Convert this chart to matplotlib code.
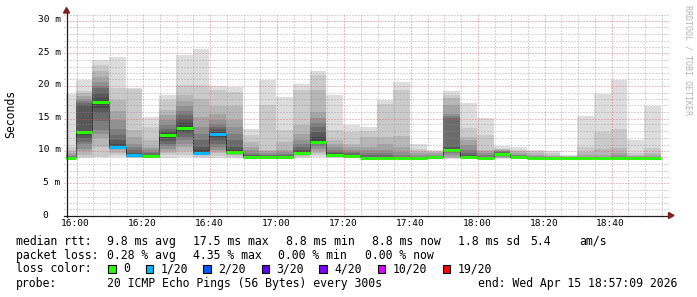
import numpy as np
import pandas as pd
import matplotlib
matplotlib.use("Agg")
import matplotlib.pyplot as plt
from matplotlib.patches import Rectangle, Polygon
from matplotlib.lines import Line2D

W, H = 697, 297
MONO = "DejaVu Sans Mono"

# 5 minute steps (start of each RRD row)
step_start = pd.date_range("2026-04-15 15:55", "2026-04-15 18:50", freq="5min")

# 20 sorted ping times per step (ms)
pings = [
    [8.6, 8.7, 8.7, 8.7, 8.8, 8.8, 8.8, 8.8, 8.8, 8.8, 8.8, 8.9, 8.9, 9.0, 9.1, 9.3, 9.5, 9.8, 10.5, 18.6],
    [8.8, 9.0, 9.3, 9.8, 10.2, 11.0, 11.3, 11.8, 12.3, 12.7, 12.7, 13.0, 17.0, 17.2, 17.5, 17.9, 18.3, 18.7, 19.1, 20.7],
    [8.85, 9.0, 10.5, 11.8, 12.4, 13.1, 14.5, 15.7, 16.5, 17.4, 17.4, 18.0, 18.8, 19.5, 19.9, 20.5, 21.3, 22.1, 23.1, 23.8],
    [8.9, 9.2, 9.6, 10.0, 10.2, 10.3, 10.4, 10.5, 10.5, 10.5, 10.5, 11.0, 11.5, 12.3, 13.2, 14.6, 16.0, 17.7, 19.6, 24.3],
    [8.7, 8.8, 8.9, 9.0, 9.0, 9.1, 9.1, 9.2, 9.2, 9.2, 9.2, 9.4, 9.6, 10.0, 10.5, 11.0, 12.0, 13.1, 19.4, 19.6],
    [8.8, 8.9, 9.0, 9.0, 9.0, 9.1, 9.1, 9.1, 9.1, 9.1, 9.1, 9.2, 9.3, 9.5, 9.7, 10.2, 10.5, 11.5, 13.6, 15.1],
    [8.8, 9.2, 9.5, 9.9, 10.2, 10.6, 11.0, 11.4, 11.8, 12.2, 12.4, 12.6, 13.0, 13.3, 13.8, 14.6, 15.4, 16.2, 17.7, 18.5],
    [8.9, 9.3, 9.8, 10.5, 11.0, 11.5, 12.0, 12.6, 13.0, 13.3, 13.5, 14.2, 14.8, 15.4, 16.0, 16.7, 17.5, 18.5, 20.0, 24.6],
    [8.8, 9.0, 9.2, 9.3, 9.4, 9.5, 9.5, 9.6, 9.6, 9.6, 9.6, 10.0, 10.5, 11.5, 12.5, 13.5, 15.1, 17.9, 20.0, 25.5],
    [8.8, 9.1, 9.5, 9.8, 10.0, 10.5, 11.0, 11.5, 12.0, 12.5, 12.5, 12.8, 13.2, 13.6, 14.0, 14.6, 15.5, 16.7, 19.2, 19.9],
    [8.8, 9.0, 9.2, 9.3, 9.4, 9.5, 9.6, 9.6, 9.7, 9.7, 9.7, 10.0, 10.5, 11.5, 12.5, 13.5, 14.6, 16.7, 19.0, 19.7],
    [8.8, 8.9, 8.9, 8.9, 9.0, 9.0, 9.0, 9.0, 9.0, 9.0, 9.0, 9.1, 9.2, 9.3, 9.6, 10.0, 10.5, 11.3, 12.3, 13.2],
    [8.8, 8.8, 8.9, 8.9, 8.9, 9.0, 9.0, 9.0, 9.0, 9.0, 9.0, 9.0, 9.1, 9.2, 9.3, 9.5, 9.8, 10.0, 16.9, 20.8],
    [8.7, 8.8, 8.8, 8.8, 8.8, 8.8, 8.8, 8.8, 8.8, 8.8, 8.9, 8.9, 9.0, 9.2, 9.4, 9.7, 10.0, 11.3, 13.1, 18.2],
    [8.8, 9.0, 9.1, 9.2, 9.3, 9.4, 9.5, 9.5, 9.6, 9.6, 9.6, 9.8, 10.0, 10.5, 11.0, 11.5, 12.5, 13.8, 19.2, 20.2],
    [8.9, 9.2, 9.5, 9.8, 10.2, 10.6, 10.9, 11.1, 11.2, 11.3, 11.3, 12.0, 12.8, 13.6, 14.1, 15.0, 15.9, 19.2, 21.5, 22.1],
    [8.8, 8.9, 9.0, 9.0, 9.1, 9.2, 9.2, 9.3, 9.3, 9.3, 9.3, 9.4, 9.5, 9.7, 10.0, 10.5, 11.0, 11.5, 13.1, 18.5],
    [8.8, 8.9, 8.9, 9.0, 9.0, 9.0, 9.0, 9.1, 9.1, 9.1, 9.1, 9.2, 9.3, 9.5, 9.7, 10.0, 10.5, 11.0, 12.8, 13.8],
    [8.7, 8.7, 8.8, 8.8, 8.8, 8.8, 8.8, 8.8, 8.8, 8.8, 8.8, 8.9, 9.0, 9.2, 9.5, 10.0, 10.5, 12.0, 13.0, 13.5],
    [8.7, 8.7, 8.8, 8.8, 8.8, 8.8, 8.8, 8.8, 8.8, 8.8, 8.8, 8.9, 9.0, 9.2, 9.5, 10.0, 11.0, 12.0, 17.1, 17.7],
    [8.6, 8.6, 8.7, 8.7, 8.7, 8.7, 8.7, 8.7, 8.7, 8.7, 8.7, 8.8, 8.9, 9.0, 9.3, 9.7, 10.5, 12.2, 19.2, 20.5],
    [8.6, 8.6, 8.7, 8.7, 8.7, 8.7, 8.7, 8.7, 8.7, 8.7, 8.7, 8.8, 8.8, 8.9, 9.0, 9.2, 9.5, 9.8, 10.1, 11.0],
    [8.7, 8.7, 8.8, 8.8, 8.8, 8.8, 8.8, 8.8, 8.8, 8.8, 8.9, 8.9, 8.9, 9.0, 9.1, 9.3, 9.5, 9.7, 9.9, 10.0],
    [8.6, 8.7, 8.8, 8.9, 9.2, 9.5, 9.8, 9.9, 10.0, 10.0, 10.0, 10.2, 10.5, 15.0, 15.3, 15.6, 17.0, 18.0, 18.5, 19.1],
    [8.8, 8.8, 8.9, 8.9, 8.9, 9.0, 9.0, 9.0, 9.0, 9.0, 9.0, 9.1, 9.3, 9.6, 10.0, 10.8, 11.5, 12.0, 13.4, 17.2],
    [8.7, 8.7, 8.8, 8.8, 8.8, 8.8, 8.8, 8.8, 8.8, 8.8, 8.8, 8.9, 8.9, 9.0, 9.2, 9.5, 9.8, 10.0, 12.3, 15.0],
    [8.6, 8.7, 8.8, 8.9, 9.0, 9.1, 9.2, 9.3, 9.3, 9.4, 9.4, 9.5, 9.6, 9.7, 9.8, 9.9, 10.0, 10.1, 10.2, 10.6],
    [8.7, 8.7, 8.8, 8.8, 8.8, 8.8, 8.9, 8.9, 8.9, 8.9, 8.9, 9.0, 9.0, 9.1, 9.2, 9.3, 9.5, 9.8, 10.0, 10.4],
    [8.6, 8.7, 8.7, 8.7, 8.8, 8.8, 8.8, 8.8, 8.8, 8.8, 8.8, 8.8, 8.9, 8.9, 9.0, 9.1, 9.2, 9.5, 9.8, 10.0],
    [8.5, 8.6, 8.6, 8.7, 8.7, 8.7, 8.7, 8.7, 8.7, 8.7, 8.7, 8.7, 8.8, 8.8, 8.9, 9.0, 9.1, 9.3, 9.6, 9.9],
    [8.7, 8.7, 8.7, 8.8, 8.8, 8.8, 8.8, 8.8, 8.8, 8.8, 8.8, 8.8, 8.9, 8.9, 8.9, 9.0, 9.0, 9.1, 9.1, 9.2],
    [8.6, 8.6, 8.6, 8.7, 8.7, 8.7, 8.7, 8.7, 8.7, 8.7, 8.7, 8.7, 8.8, 8.8, 8.9, 9.0, 9.3, 9.7, 10.5, 15.2],
    [8.6, 8.6, 8.7, 8.7, 8.7, 8.7, 8.7, 8.7, 8.7, 8.7, 8.7, 8.7, 8.8, 8.8, 8.9, 9.0, 9.3, 10.1, 12.8, 18.6],
    [8.6, 8.6, 8.7, 8.7, 8.7, 8.7, 8.7, 8.7, 8.7, 8.7, 8.7, 8.8, 8.8, 8.9, 9.0, 9.2, 9.6, 10.3, 13.3, 20.7],
    [8.6, 8.6, 8.7, 8.7, 8.7, 8.7, 8.7, 8.7, 8.7, 8.7, 8.7, 8.7, 8.8, 8.8, 8.9, 9.0, 9.1, 9.3, 9.5, 11.5],
    [8.6, 8.6, 8.7, 8.7, 8.7, 8.7, 8.7, 8.7, 8.7, 8.7, 8.7, 8.7, 8.8, 8.8, 8.9, 9.0, 9.2, 9.6, 10.3, 16.7],
]

# lost pings per step (out of 20)
loss = [0, 0, 0, 1, 1, 0, 0, 0, 1, 1, 0, 0, 0, 0, 0, 0, 0, 0,
        0, 0, 0, 0, 0, 0, 0, 0, 0, 0, 0, 0, 0, 0, 0, 0, 0, 0]

loss_levels = [0, 1, 2, 3, 4, 10, 19]
loss_labels = ["0", "1/20", "2/20", "3/20", "4/20", "10/20", "19/20"]
loss_colors = ["#26ff00", "#00b8ff", "#0059ff", "#5e00ff", "#7e00ff", "#dd00ff", "#ff0000"]

x_start = pd.Timestamp("2026-04-15 15:57:09")
x_end = pd.Timestamp("2026-04-15 18:57:09")


def to_min(ts):
    return (ts - x_start) / pd.Timedelta(minutes=1)


def fx(x):
    return x / W


def fy(y):
    return 1 - y / H


def loss_color(n):
    idx = 0
    for i, lv in enumerate(loss_levels):
        if n >= lv:
            idx = i
    return loss_colors[idx]


P = np.array(pings)
left = to_min(step_start).to_numpy()
median = np.median(P, axis=1)
half = P.shape[1] // 2
span = to_min(x_end)

fig = plt.figure(figsize=(W / 100, H / 100), dpi=100)
fig.patch.set_facecolor("white")
ax = fig.add_axes([fx(66), fy(215), fx(602), 202 / H])
ax.set_xlim(0, span)
ax.set_ylim(0, 202 / 6.5)
ax.axis("off")

# smoke: band i covers ping i .. ping (n-i), darker towards the middle
for i in range(half):
    c = int(190 / half * (half - (i + 1))) + 50
    grey = "#%02x%02x%02x" % (c, c, c)
    lo = P[:, i]
    hi = P[:, -(i + 1)]
    ax.bar(left, hi - lo, bottom=lo, width=5, align="edge", color=grey,
           linewidth=0, antialiased=False, zorder=2)

# grid (dotted, drawn over the smoke like rrdtool); placed on whole pixels
minor_c = (0.56, 0.56, 0.56, 0.7)
major_c = (0.87, 0.31, 0.31, 0.7)
dots = (0, (1, 2))
for v in range(0, 32):
    yp = round(215 - v * 6.5) + 0.5
    fig.add_artist(Line2D([fx(64), fx(669)], [fy(yp), fy(yp)], lw=0.72, ls=dots,
                          color=major_c if v % 5 == 0 else minor_c, zorder=3))
grid_times = pd.date_range("2026-04-15 16:00", "2026-04-15 18:55", freq="5min")
for t in grid_times:
    xp = round(66 + to_min(t) * 602 / span) + 0.5
    fig.add_artist(Line2D([fx(xp), fx(xp)], [fy(217), fy(13)], lw=0.72, ls=dots,
                          color=major_c if t.minute % 20 == 0 else minor_c, zorder=3))

# median line, coloured by loss, with dotted steps
for k in range(1, len(median)):
    ax.vlines(left[k], median[k - 1], median[k], color="black", lw=0.72,
              ls=(0, (1, 1)), zorder=4)
ax.hlines(median, left, left + 5, colors=[loss_color(n) for n in loss],
          lw=2.2, zorder=5)

# axes with arrows
axis_c = "#1f1f1f"
arrow_c = "#7f1f1f"
fig.add_artist(Line2D([fx(64), fx(669)], [fy(215.5), fy(215.5)], color=axis_c, lw=0.9, zorder=6))
fig.add_artist(Line2D([fx(66.5), fx(66.5)], [fy(217), fy(11)], color=axis_c, lw=0.9, zorder=6))
fig.add_artist(Polygon([[fx(66.5), fy(7.5)], [fx(63.5), fy(13)], [fx(69.5), fy(13)]],
                       closed=True, color=arrow_c, transform=fig.transFigure, zorder=6))
fig.add_artist(Polygon([[fx(674), fy(215.5)], [fx(668.5), fy(212.5)], [fx(668.5), fy(218.5)]],
                       closed=True, color=arrow_c, transform=fig.transFigure, zorder=6))

# x tick labels
for t in pd.date_range("2026-04-15 16:00", "2026-04-15 18:40", freq="20min"):
    xp = 66 + to_min(t) * 602 / span
    fig.text(fx(xp), fy(224), t.strftime("%H:%M"), ha="center", va="center",
             family=MONO, fontsize=6.8)

# y tick labels
for v in range(0, 31, 5):
    yp = 215 - v * 6.5
    if v == 0:
        fig.text(fx(48), fy(yp), "0", ha="right", va="center", family=MONO, fontsize=6.8)
    else:
        fig.text(fx(60.5), fy(yp), "%d m" % v, ha="right", va="center", family=MONO, fontsize=6.8)

fig.text(fx(11), fy(114), "Seconds", rotation=90, ha="center", va="center",
         family=MONO, fontsize=8.3)
fig.text(fx(688), fy(60), "RRDTOOL / TOBI OETIKER", rotation=270, ha="center",
         va="center", family=MONO, fontsize=6, color="#b4b4b4")

# legend rows
FS = 8.3
rows = [
    (241.3, [(16, "median rtt:"), (107.3, "9.8 ms avg"), (192.7, "17.5 ms max"),
             (286, "8.8 ms min"), (372.3, "8.8 ms now"), (458.3, "1.8 ms sd"),
             (530, "5.4"), (579.3, "am/s")]),
    (255.3, [(16, "packet loss:"), (107.3, "0.28 % avg"), (192.7, "4.35 % max"),
             (278.3, "0.00 % min"), (365, "0.00 % now")]),
    (283, [(16, "probe:"), (107.3, "20 ICMP Echo Pings (56 Bytes) every 300s"),
           (478.3, "end: Wed Apr 15 18:57:09 2026")]),
]
for yp, items in rows:
    for xp, s in items:
        fig.text(fx(xp), fy(yp), s, ha="left", va="center", family=MONO, fontsize=FS)

fig.text(fx(16), fy(269), "loss color:", ha="left", va="center", family=MONO, fontsize=FS)
box_x = [108.3, 146, 203.3, 261.7, 319.3, 377.7, 442.7]
for bx, lab, col in zip(box_x, loss_labels, loss_colors):
    fig.add_artist(Rectangle((fx(bx), fy(273)), 7.4 / W, 7.6 / H, facecolor=col,
                             edgecolor="black", lw=0.8, transform=fig.transFigure))
    fig.text(fx(bx + 15), fy(269), lab, ha="left", va="center", family=MONO, fontsize=FS)

fig.savefig("out.png", dpi=100, facecolor="white")
